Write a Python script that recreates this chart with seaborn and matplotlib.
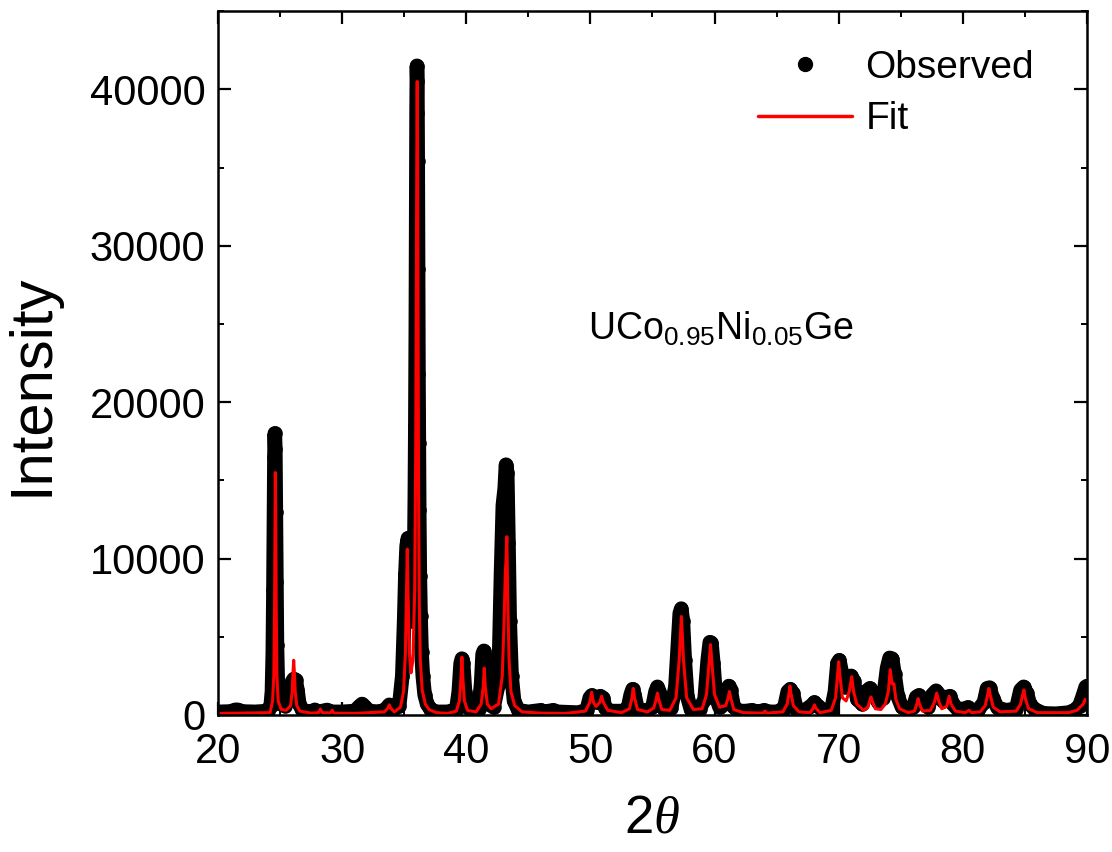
import matplotlib
matplotlib.use("Agg")
import matplotlib.pyplot as plt
from matplotlib.lines import Line2D
from matplotlib.ticker import MultipleLocator
import seaborn as sns
import pandas as pd

# ---------------- data ----------------
obs_2theta = [
    20.0, 21.0, 21.4, 21.6, 22.0, 23.0, 24.0, 24.25,
    24.35, 24.42, 24.47, 24.51, 24.55, 24.58, 24.62, 24.66, 24.70, 24.75, 24.82, 24.90, 25.10, 25.40,
    25.80, 25.95, 26.10, 26.25, 26.40, 26.55, 26.80,
    27.50, 27.80, 28.10, 28.80, 29.10, 30.00, 31.00, 31.40, 31.60, 31.80, 32.20, 33.00, 33.50, 33.80, 34.10, 34.60,
    34.85, 35.00, 35.10, 35.20, 35.30, 35.40, 35.55, 35.70, 35.80, 35.86, 35.90, 35.94, 35.97, 36.00, 36.03,
    36.06, 36.09, 36.12, 36.15, 36.18, 36.21, 36.26, 36.32, 36.40, 36.50, 36.65, 36.85, 37.10, 37.50,
    38.50, 39.20, 39.40, 39.55, 39.65, 39.75, 39.90, 40.10, 40.50,
    41.00, 41.20, 41.32, 41.42, 41.52, 41.65, 41.80,
    42.20, 42.60, 42.80, 42.95, 43.10, 43.20, 43.30, 43.40, 43.50, 43.65, 43.85, 44.20,
    45.00, 46.00, 46.30, 47.00, 47.40, 49.00, 49.70, 49.95, 50.10, 50.30, 50.50, 50.80, 51.00, 51.20, 51.60, 52.50,
    53.00, 53.25, 53.40, 53.55, 53.80, 54.50, 55.00, 55.25, 55.40, 55.55, 55.90, 56.50,
    56.85, 57.05, 57.20, 57.32, 57.45, 57.60, 57.80, 58.10, 58.80,
    59.20, 59.45, 59.62, 59.75, 59.90, 60.10, 60.40, 60.80, 61.00, 61.15, 61.30, 61.55,
    62.00, 62.50, 63.00, 63.50, 64.00, 64.40, 65.00,
    65.60, 65.90, 66.10, 66.30, 66.60, 67.20, 67.80, 68.05, 68.35, 68.80, 69.40,
    69.70, 69.90, 70.05, 70.25, 70.50, 70.80, 71.00, 71.20, 71.50, 71.90, 72.20, 72.50, 72.80, 73.20,
    73.60, 73.90, 74.10, 74.30, 74.50, 74.75, 75.10, 75.60,
    76.00, 76.25, 76.45, 76.70, 77.20, 77.55, 77.85, 78.10, 78.40, 78.75, 78.95, 79.20, 79.60,
    80.10, 80.40, 80.70, 81.20, 81.70, 81.95, 82.15, 82.40, 82.80, 83.50,
    84.30, 84.65, 84.90, 85.15, 85.40, 85.80, 86.50, 87.50, 88.50, 89.00, 89.40, 89.70, 89.90, 90.00,
]
obs_counts = [
    200, 220, 330, 330, 220, 200, 250, 600,
    1500, 4000, 8000, 12500, 16500, 18000, 17000, 13000, 8500, 4500, 2000, 1000, 700, 600,
    1500, 2100, 2300, 2250, 1600, 700, 300,
    200, 330, 200, 320, 200, 200, 250, 550, 700, 550, 250, 200, 350, 650, 350, 600,
    2500, 6000, 9000, 10800, 11300, 10500, 7500, 6000, 9000, 14000, 18500, 24800, 32000, 38500, 41500,
    40500, 35400, 28500, 21800, 17400, 13100, 8900, 6300, 4000, 2500, 1300, 700, 400, 200,
    200, 350, 1500, 3300, 3600, 3300, 1500, 500, 250,
    400, 2000, 3900, 4100, 3700, 1800, 700,
    500, 2000, 9000, 13400, 14500, 16000, 15500, 11000, 6000, 2500, 900, 300,
    200, 300, 200, 300, 200, 150, 300, 1100, 1250, 900, 800, 1200, 1100, 450, 250, 250,
    350, 1300, 1650, 1300, 350, 250, 500, 1500, 1800, 1500, 400, 450,
    1800, 4500, 6500, 6800, 6000, 3500, 1200, 350, 400,
    1000, 3500, 4650, 4600, 3300, 1200, 500, 700, 1600, 1850, 1600, 500,
    250, 250, 300, 200, 300, 200, 200,
    400, 1500, 1650, 1400, 400, 250, 600, 800, 550, 250, 300,
    1500, 3300, 3500, 2700, 1800, 2300, 2500, 2200, 1000, 700, 1500, 1700, 1400, 800,
    1100, 3000, 3650, 3600, 2600, 1200, 500, 300,
    500, 1150, 1250, 800, 500, 1300, 1550, 1300, 900, 1150, 1200, 700, 350,
    400, 480, 300, 300, 800, 1700, 1750, 1100, 450, 300,
    400, 1600, 1800, 1400, 700, 350, 100, 80, 150, 300, 600, 1300, 1800, 1850,
]

fit_2theta = [
    20.0, 24.20, 24.40, 24.50, 24.56, 24.60, 24.62, 24.65, 24.69, 24.75, 24.85, 25.10, 25.50,
    25.85, 25.98, 26.05, 26.10, 26.15, 26.22, 26.35, 26.60, 27.50, 28.10, 28.25, 28.40,
    29.05, 29.20, 29.35, 31.00, 33.40, 33.70, 33.80, 33.90, 34.20,
    34.70, 34.95, 35.10, 35.18, 35.25, 35.32, 35.42, 35.55, 35.70, 35.85, 35.93, 35.98, 36.02, 36.05,
    36.08, 36.12, 36.16, 36.22, 36.30, 36.45, 36.70, 37.00, 37.60, 38.50,
    39.20, 39.45, 39.57, 39.65, 39.73, 39.85, 40.10, 40.80, 41.20, 41.37, 41.45, 41.53, 41.70, 42.00,
    42.60, 42.90, 43.05, 43.15, 43.20, 43.27, 43.34, 43.45, 43.60, 43.90, 44.50, 46.00, 48.00,
    49.60, 49.95, 50.10, 50.25, 50.45, 50.75, 50.90, 51.05, 51.40, 52.50,
    53.15, 53.35, 53.45, 53.55, 53.80, 54.60, 55.10, 55.30, 55.40, 55.50, 55.75, 56.40,
    56.90, 57.15, 57.33, 57.50, 57.75, 58.30, 59.00, 59.35, 59.55, 59.68, 59.80, 60.00, 60.40,
    60.90, 61.10, 61.20, 61.30, 61.55, 62.30, 63.90, 64.05, 64.20, 65.50,
    65.85, 66.00, 66.07, 66.15, 66.35, 66.80, 67.70, 67.95, 68.05, 68.15, 68.50,
    69.40, 69.75, 69.90, 70.00, 70.10, 70.30, 70.60, 70.85, 71.05, 71.20, 71.45, 72.00,
    72.35, 72.50, 72.60, 72.70, 72.95, 73.40, 73.75, 74.00, 74.15, 74.30, 74.45, 74.60, 74.90, 75.60,
    76.10, 76.30, 76.40, 76.50, 76.75, 77.40, 77.70, 77.90, 78.05, 78.30, 78.70, 78.90, 79.05, 79.40,
    80.20, 80.50, 80.70, 81.40, 81.80, 82.00, 82.10, 82.20, 82.45, 83.00,
    84.30, 84.65, 84.82, 84.92, 85.05, 85.30, 86.00, 88.50, 89.20, 89.50, 89.70, 89.85, 90.00,
]
fit_counts = [
    100, 150, 900, 2500, 7000, 13000, 15500, 13000, 7000, 2500, 900, 350, 300,
    600, 1500, 2800, 3500, 2800, 1500, 600, 250, 120, 150, 380, 150,
    130, 300, 120, 100, 200, 450, 650, 450, 200,
    500, 1500, 4000, 7500, 10600, 7500, 4000, 2700, 3500, 8000, 17000, 28000, 36000, 40500,
    36000, 24000, 14000, 7000, 3500, 1600, 700, 350, 150, 100,
    250, 900, 2300, 3700, 2300, 900, 300, 200, 700, 1800, 3000, 1800, 700, 400,
    700, 2500, 6000, 9200, 9800, 11400, 7500, 3500, 1500, 600, 200, 120, 100,
    250, 800, 1450, 800, 550, 800, 1200, 800, 300, 150,
    400, 1100, 1700, 1100, 350, 200, 450, 1000, 1400, 1000, 350, 300,
    1100, 3500, 6300, 3500, 1100, 350, 400, 1300, 3200, 4500, 3200, 1300, 500,
    600, 1100, 1500, 1100, 350, 150, 120, 250, 120, 200,
    700, 1400, 1850, 1400, 600, 200, 150, 450, 650, 450, 150,
    300, 1100, 2500, 3400, 2500, 1100, 900, 1500, 2450, 1500, 700, 300,
    500, 900, 1150, 900, 400, 350, 700, 1500, 2900, 2000, 2000, 1000, 400, 150,
    250, 700, 1050, 700, 250, 300, 800, 1400, 900, 400, 550, 1200, 700, 250,
    150, 300, 150, 200, 600, 1300, 1700, 1300, 500, 200,
    250, 700, 1300, 1600, 1000, 400, 150, 150, 300, 550, 700, 1000, 900,
]

x_ticks = [20, 30, 40, 50, 60, 70, 80, 90]
y_ticks = [0, 10000, 20000, 30000, 40000]
legend_labels = ["Observed", "Fit"]
sample_label = r"$\mathsf{UCo_{0.95}Ni_{0.05}Ge}$"

obs_df = pd.DataFrame({"two_theta": obs_2theta, "intensity": obs_counts})
fit_df = pd.DataFrame({"two_theta": fit_2theta, "intensity": fit_counts})

# ---------------- styling ----------------
sns.set_theme(style="ticks")
plt.rcParams["font.family"] = ["Liberation Sans", "DejaVu Sans"]
plt.rcParams["text.color"] = "black"
plt.rcParams["axes.labelcolor"] = "black"
plt.rcParams["xtick.color"] = "black"
plt.rcParams["ytick.color"] = "black"
plt.rcParams["mathtext.fontset"] = "custom"
plt.rcParams["mathtext.rm"] = "Liberation Sans"
plt.rcParams["mathtext.it"] = "Liberation Serif:italic"
plt.rcParams["mathtext.sf"] = "Liberation Sans"

fig = plt.figure(figsize=(11.12, 8.52), dpi=100)
ax = fig.add_axes([0.196, 0.1608, 0.7815, 0.8262])

dot_size = 10.5
sns.lineplot(data=obs_df, x="two_theta", y="intensity", ax=ax, color="black",
             lw=dot_size, marker="o", markersize=dot_size, markeredgewidth=0,
             estimator=None, sort=False, solid_joinstyle="round",
             solid_capstyle="round", legend=False)
sns.lineplot(data=fit_df, x="two_theta", y="intensity", ax=ax, color="#ff0000",
             lw=2.2, estimator=None, sort=False, legend=False)

ax.set_xlim(20, 90)
ax.set_ylim(0, 45000)
ax.set_xticks(x_ticks)
ax.set_yticks(y_ticks)
ax.set_xticklabels([str(t) for t in x_ticks])
ax.set_yticklabels([str(t) for t in y_ticks])
ax.xaxis.set_minor_locator(MultipleLocator(5))
ax.yaxis.set_minor_locator(MultipleLocator(5000))

ax.tick_params(which="both", direction="in", top=True, right=True, colors="black")
ax.tick_params(which="major", length=9.5, width=1.6, labelsize=30)
ax.tick_params(axis="x", which="major", pad=12)
ax.tick_params(axis="y", which="major", pad=9)
ax.tick_params(which="minor", length=4.5, width=1.4)
for sp in ax.spines.values():
    sp.set_linewidth(1.8)
    sp.set_color("black")

ax.set_ylabel("Intensity", fontsize=43)
ax.yaxis.set_label_coords(-0.182, 0.469)
ax.set_xlabel(r"$2\theta$", fontsize=38)
ax.xaxis.set_label_coords(0.5, -0.112)

ax.text(49.8, 24000, sample_label, fontsize=27, color="black", ha="left", va="baseline")

handles = [
    Line2D([], [], color="black", marker="o", markersize=10, linestyle="none"),
    Line2D([], [], color="#ff0000", lw=2.5),
]
ax.legend(handles, legend_labels, loc="upper left", bbox_to_anchor=(0.622, 0.945),
          frameon=False, fontsize=28, handlelength=2.4, handletextpad=0.35,
          labelspacing=0.4, borderaxespad=0, borderpad=0)

fig.savefig("out.png", dpi=100)
